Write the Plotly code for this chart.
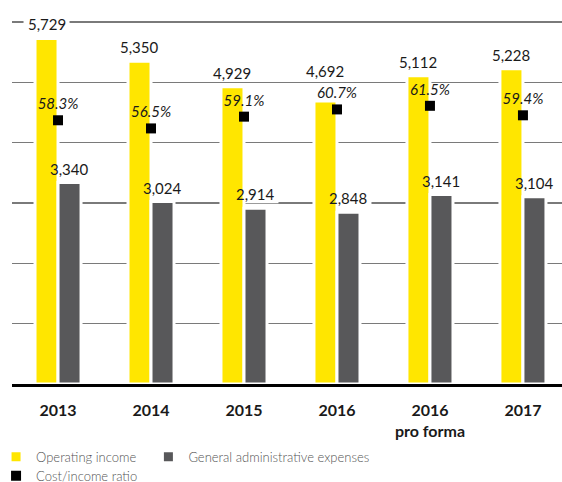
import plotly.graph_objects as go

categories = ["2013", "2014", "2015", "2016", "2016<br>pro forma", "2017"]
operating_income = [5729, 5350, 4929, 4692, 5112, 5228]
admin_expenses = [3340, 3024, 2914, 2848, 3141, 3104]
cost_income_ratio = [58.3, 56.5, 59.1, 60.7, 61.5, 59.4]

YELLOW = "#FFE600"
GRAY = "#58585A"
FONT = "Lato"
TXT = "#1a1a1a"

fig = go.Figure()
fig.add_trace(go.Bar(
    x=categories, y=operating_income, name="Operating income",
    marker=dict(color=YELLOW, line=dict(color="white", width=3)),
    legend="legend", hoverinfo="skip",
))
fig.add_trace(go.Bar(
    x=categories, y=admin_expenses, name="General administrative expenses",
    marker=dict(color=GRAY, line=dict(color="white", width=3)),
    legend="legend3", hoverinfo="skip",
))
fig.add_trace(go.Scatter(
    x=categories, y=cost_income_ratio, name="Cost/income ratio", yaxis="y2",
    mode="markers+text",
    marker=dict(symbol="square", size=10, color="black"),
    text=[f"<i>{v:.1f}%</i>" for v in cost_income_ratio],
    textposition="top center",
    textfont=dict(family=FONT, size=15, color=TXT),
    legend="legend2", hoverinfo="skip",
))

annotations = []
shapes = []


def add_label(i, v, xshift, yshift):
    annotations.append(dict(
        x=i, y=v, xref="x", yref="y", text=f"{v:,}", showarrow=False,
        xanchor="center", yanchor="middle", xshift=xshift, yshift=yshift,
        font=dict(family=FONT, size=15, color=TXT),
    ))
    # white knock-out behind the label (hides gridlines only, bars stay on top)
    shapes.append(dict(
        type="rect", xref="x", yref="y", layer="between",
        xsizemode="pixel", xanchor=i, x0=xshift - 23, x1=xshift + 23,
        ysizemode="pixel", yanchor=v, y0=yshift - 9, y1=yshift + 9,
        fillcolor="white", line=dict(width=0),
    ))


for i, v in enumerate(operating_income):
    add_label(i, v, -11.5, 30 if i == 3 else 14)
for i, v in enumerate(admin_expenses):
    add_label(i, v, 11.5, 14)

legend_font = dict(family=FONT, size=13, color="#555555", weight=300)

fig.update_layout(
    width=562, height=482,
    margin=dict(l=12, r=0, t=20, b=98, autoexpand=False),
    paper_bgcolor="white", plot_bgcolor="white",
    barmode="group", bargap=0.505, bargroupgap=0,
    font=dict(family=FONT, color=TXT),
    annotations=annotations, shapes=shapes,
    xaxis=dict(
        type="category",
        range=[-0.495, 5.42], showline=True, linecolor="black", linewidth=3,
        layer="above traces", ticks="", ticklabelstandoff=10,
        tickfont=dict(family=FONT, size=16, color=TXT, weight="bold"),
        showgrid=False, fixedrange=True,
    ),
    yaxis=dict(
        range=[0, 6035], tickvals=[1000, 2000, 3000, 4000, 5000, 6000],
        showgrid=True, gridcolor="#7a7a7a", fixedrange=True,
        gridwidth=1.5, showticklabels=False, zeroline=False, ticks="",
    ),
    yaxis2=dict(
        range=[0, 80 * 6035 / 6000], overlaying="y", side="right", showgrid=False,
        showticklabels=False, zeroline=False, ticks="", fixedrange=True,
    ),
    showlegend=True,
    legend=dict(
        orientation="h", x=-0.029, xanchor="left", y=-0.2, yanchor="middle",
        font=legend_font, bgcolor="rgba(0,0,0,0)",
    ),
    legend3=dict(
        orientation="h", x=0.248, xanchor="left", y=-0.2, yanchor="middle",
        font=legend_font, bgcolor="rgba(0,0,0,0)",
    ),
    legend2=dict(
        orientation="h", x=-0.029, xanchor="left", y=-0.252, yanchor="middle",
        font=legend_font, bgcolor="rgba(0,0,0,0)",
    ),
)

fig.write_html(
    "out.html",
    config={"displayModeBar": False, "staticPlot": True},
    post_script="document.body.style.margin='0';",
)
